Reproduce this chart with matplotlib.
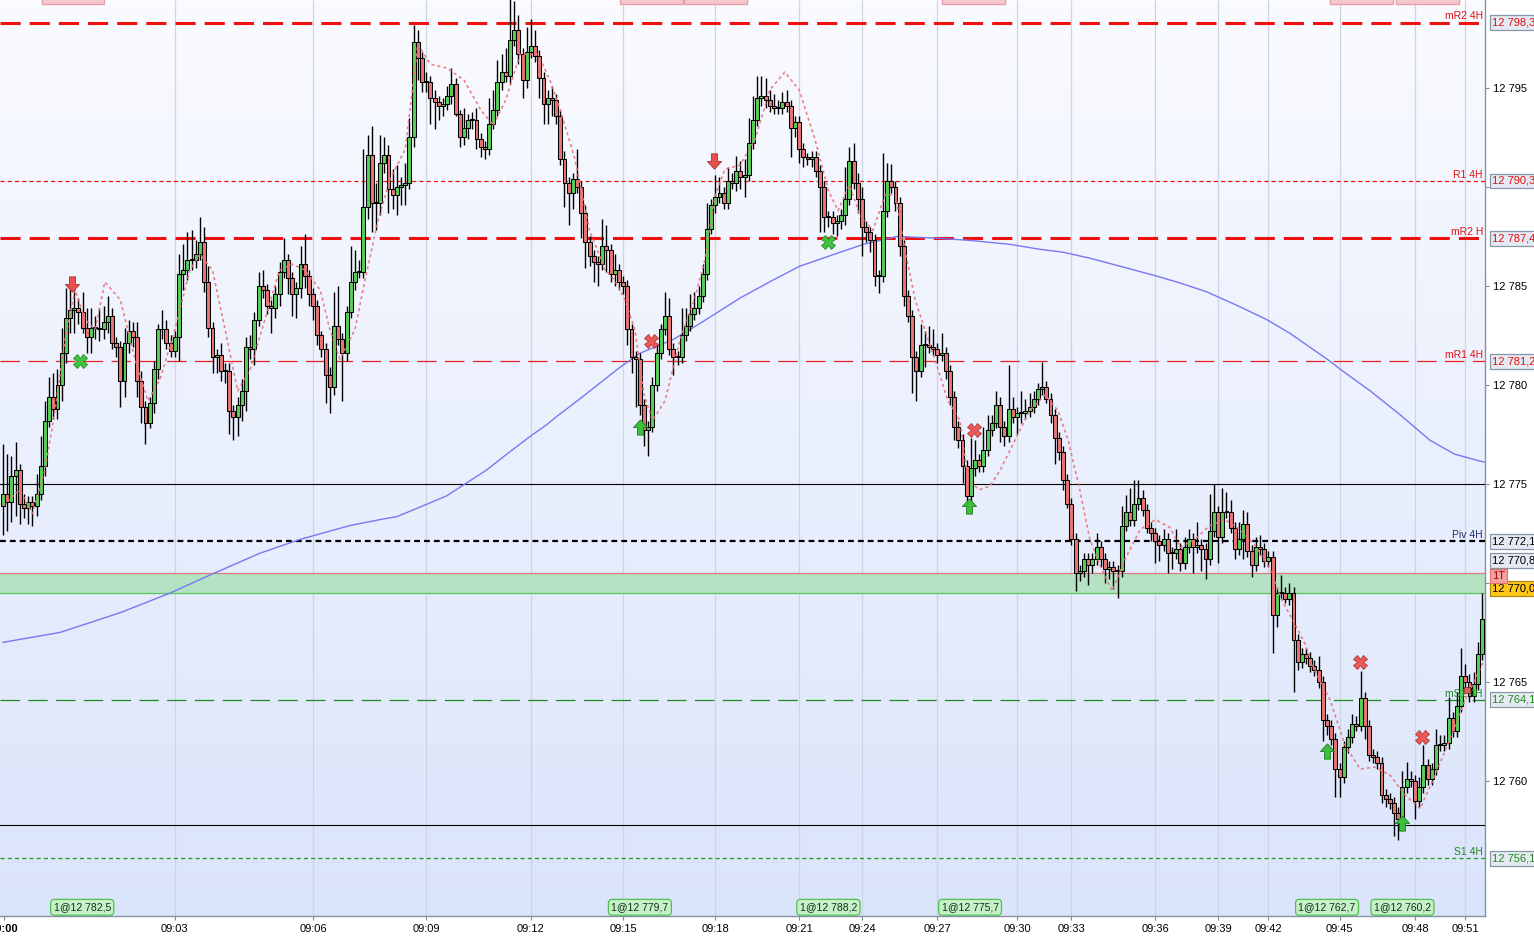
import numpy as np
import matplotlib
matplotlib.use('Agg')
import matplotlib.pyplot as plt
from matplotlib.path import Path
from matplotlib.patches import Rectangle
from matplotlib.colors import LinearSegmentedColormap
from matplotlib.transforms import blended_transform_factory

plt.rcParams['font.family'] = ['Liberation Sans', 'DejaVu Sans']
plt.rcParams['lines.scale_dashes'] = False

# ---------------- data ----------------
first_open = 12773.9
closes = [
    12774.5, 12774.1, 12775.4, 12775.7, 12774.0, 12773.8, 12774.1, 12773.9, 12774.5, 12775.9,
    12778.2, 12779.4, 12778.8, 12780.0, 12781.6, 12783.4, 12783.8, 12783.9, 12783.7, 12782.9,
    12782.4, 12782.9, 12782.9, 12782.8, 12783.2, 12783.5, 12782.1, 12781.9, 12780.2, 12782.1,
    12782.7, 12782.4, 12780.2, 12778.9, 12778.1, 12779.1, 12780.8, 12782.8, 12782.8, 12782.1,
    12781.7, 12782.4, 12785.6, 12785.8, 12786.3, 12786.3, 12786.6, 12787.2, 12785.2, 12782.9,
    12781.4, 12781.5, 12780.7, 12780.7, 12778.7, 12778.4, 12779.0, 12779.7,
    12781.9, 12781.8, 12783.3, 12785.0, 12784.8, 12784.0, 12783.9, 12784.6, 12785.7, 12786.3,
    12785.4, 12784.6, 12784.9, 12786.1, 12785.5, 12784.6, 12784.0, 12782.5, 12781.8, 12780.5,
    12779.9, 12783.0, 12782.3, 12781.6, 12783.7, 12785.2, 12785.7, 12785.7, 12789.0, 12791.6,
    12789.2, 12789.2, 12791.2, 12791.6, 12789.9, 12789.6, 12790.0, 12790.1, 12790.2, 12792.5,
    12797.3, 12796.5, 12795.3, 12795.3, 12794.5, 12794.3, 12794.1, 12794.2, 12794.6, 12795.2,
    12793.7, 12792.5, 12793.0, 12793.4, 12793.4, 12792.4, 12792.0, 12791.9, 12793.2, 12793.9,
    12795.3, 12795.8, 12795.6, 12797.4, 12797.9, 12796.7, 12795.4, 12796.8, 12797.1, 12796.6,
    12795.5, 12794.2, 12794.5,
    12794.4, 12793.6, 12791.4, 12790.2, 12789.7, 12790.4, 12790.0, 12788.7, 12787.2, 12786.5,
    12786.2, 12786.1, 12787.0, 12786.8, 12785.6, 12785.8, 12785.2, 12785.0, 12782.8, 12781.4,
    12781.3, 12779.0, 12777.7, 12777.9, 12780.0, 12781.6, 12782.8, 12783.5, 12781.8, 12781.4,
    12781.4, 12782.5, 12783.0, 12783.6, 12783.9, 12784.5, 12785.6, 12787.9, 12789.1, 12789.5,
    12789.7, 12789.2, 12790.3, 12790.2, 12790.8, 12790.5, 12790.6, 12792.2, 12793.4, 12794.5,
    12794.6, 12794.4, 12794.1, 12794.0, 12794.0, 12794.3, 12794.1, 12793.0, 12793.3, 12791.9,
    12791.5, 12791.4, 12791.5, 12790.8, 12790.0, 12788.5, 12788.5, 12788.2, 12788.3, 12788.6,
    12789.4, 12791.3, 12790.2, 12789.4, 12788.0, 12787.7, 12787.3, 12785.5, 12785.5, 12788.8,
    12790.3, 12790.0, 12789.2, 12787.0, 12784.5, 12783.5, 12781.4, 12780.7, 12782.0, 12782.0,
    12781.9, 12781.8, 12781.5, 12781.6, 12780.7, 12779.4, 12777.9, 12777.2, 12775.9, 12774.4,
    12775.8, 12776.2, 12775.9, 12776.7, 12777.7, 12778.1, 12779.0, 12777.9, 12777.4, 12778.8,
    12778.4, 12778.6, 12778.6, 12778.7, 12778.9, 12779.3, 12779.8, 12779.9, 12779.3, 12778.5,
    12777.3, 12776.6, 12775.2, 12774.0, 12772.2, 12770.5, 12770.6, 12771.2, 12770.9, 12771.2,
    12771.8, 12771.2, 12770.7, 12770.8, 12770.6, 12770.6, 12772.9, 12773.6, 12773.2,
    12774.0, 12774.3, 12773.7, 12772.8, 12772.5, 12772.1, 12771.9, 12772.2, 12771.5, 12771.5,
    12771.7, 12771.0, 12771.8, 12772.2, 12771.8, 12771.9, 12771.7, 12771.2, 12772.6, 12773.6,
    12772.3, 12773.6, 12773.6, 12772.8, 12771.7, 12772.2, 12773.0, 12771.6, 12770.9, 12771.8,
    12771.7, 12771.1, 12771.3, 12768.4, 12769.5, 12769.5, 12769.2, 12769.5, 12767.1, 12766.0,
    12766.4, 12766.2, 12765.8, 12765.6, 12765.0, 12763.1, 12762.8, 12762.1, 12760.6, 12760.2,
    12761.7, 12762.2, 12762.9, 12762.8, 12764.2, 12762.8, 12761.3, 12761.2, 12760.9, 12759.3,
    12759.1, 12758.9, 12758.4, 12758.1, 12759.7, 12760.1, 12760.0, 12759.0, 12759.7, 12760.8,
    12760.1, 12760.6, 12761.8, 12761.8, 12761.9, 12763.2, 12762.5, 12763.8, 12765.3, 12765.0,
    12764.3, 12764.9, 12766.4, 12768.2,
]
wick_up = [
    2.5, 2.0, 1.0, 1.4, 0.3, 0.5, 0.3, 0.3, 1.0, 1.5, 1.0, 1.0, 1.2, 0.8, 1.3, 1.5, 1.2, 1.3, 0.5, 1.0,
    1.0, 1.0, 0.6, 1.0, 0.8, 1.0, 0.4, 0.3, 0.3, 0.8, 0.6, 0.5, 0.8, 0.5, 0.3, 0.3, 0.4, 0.3, 1.0, 0.5,
    0.4, 0.3, 1.0, 1.3, 1.4, 1.5, 0.7, 1.3, 0.8, 0.8, 0.3, 0.3, 0.6, 0.4, 0.4, 0.3, 0.4, 0.6,
    0.5, 0.6, 0.4, 0.7, 0.8, 0.3, 0.3, 0.4, 0.5, 1.1, 0.3, 0.3, 0.3, 0.9, 1.5, 0.3, 0.3, 0.3, 0.2, 0.3,
    0.4, 1.7, 2.0, 0.3, 0.3, 1.8, 1.1, 0.6, 2.9, 1.0, 1.5, 1.0, 1.4, 0.9, 0.5, 1.0, 1.1, 0.4, 1.0, 1.0,
    0.9, 0.6, 0.3, 0.5, 0.3, 0.4, 0.3, 0.3, 0.5, 0.8, 0.3, 0.2, 1.0, 0.3, 0.4, 0.6, 0.3, 0.3, 1.3, 1.0,
    1.1, 0.9, 1.2, 2.2, 1.5, 0.8, 0.3, 1.3, 1.4, 0.8, 0.3, 0.3, 0.4,
    0.6, 0.3, 0.3, 0.4, 0.3, 0.3, 1.5, 0.3, 0.4, 0.3, 0.3, 0.3, 1.4, 1.1, 0.3, 0.8, 0.3, 0.3, 0.3, 0.3,
    0.3, 0.3, 0.3, 0.3, 0.4, 0.4, 0.3, 1.2, 0.9, 0.3, 0.3, 1.4, 0.9, 1.0, 0.8, 0.5, 0.5, 1.3, 0.3, 1.1,
    0.8, 0.3, 0.7, 0.4, 0.75, 0.5, 0.8, 1.3, 1.2, 1.1, 1.0, 0.9, 0.5, 0.6, 0.4, 0.5, 0.6, 0.3, 0.3, 0.3,
    0.3, 0.2, 0.3, 0.3, 0.3, 0.3, 0.3, 0.3, 0.3, 0.3,
    1.6, 0.7, 0.9, 0.5, 0.6, 0.3, 0.3, 0.3, 0.3, 2.9, 0.9, 0.85, 0.3, 0.3, 0.3, 0.3, 0.3, 0.3, 1.1, 0.7,
    1.0, 0.9, 0.3, 1.0, 0.3, 0.3, 0.3, 0.3, 0.3, 0.3, 1.5, 1.0, 0.3, 1.2, 0.8, 0.4, 0.7, 0.4, 0.3, 2.2,
    0.6, 0.3, 1.1, 0.6, 0.7, 0.4, 0.3, 1.25, 0.3, 0.3, 0.3, 0.3, 0.3, 0.3, 0.3, 0.3, 0.3, 0.3, 0.3, 0.3,
    0.7, 0.3, 0.3, 0.3, 0.3, 0.3, 1.0, 0.85, 1.2,
    1.2, 0.9, 0.4, 0.3, 0.3, 0.3, 0.3, 0.5, 0.3, 0.3, 1.0, 0.3, 0.5, 0.5, 0.3, 1.2, 0.3, 0.3, 1.9, 1.4,
    0.3, 1.2, 1.0, 0.6, 0.3, 0.9, 0.7, 0.6, 0.3, 0.5, 0.6, 0.3, 0.3, 0.3, 0.3, 0.9, 0.3, 0.5, 0.3, 0.3,
    0.3, 0.3, 0.3, 0.3, 0.7, 0.3, 0.3, 0.3, 0.3, 0.3, 0.3, 0.4, 0.5, 0.4, 1.35, 0.3, 0.3, 0.3, 0.3, 0.3,
    0.3, 0.3, 0.3, 0.3, 0.8, 0.85, 0.4, 0.3, 0.5, 1.0, 0.3, 0.3, 0.8, 0.5, 0.4, 1.05, 0.3, 0.7, 1.4, 0.6,
    0.4, 0.6, 0.6, 1.3,
]
wick_dn = [
    1.5, 1.5, 1.0, 2.0, 1.0, 0.5, 0.8, 1.0, 0.5, 0.3, 0.5, 0.3, 0.5, 0.5, 0.8, 0.5, 0.8, 1.2, 0.6, 0.3,
    0.8, 0.8, 0.6, 0.6, 0.5, 0.6, 0.3, 0.5, 1.3, 0.8, 0.5, 0.5, 0.8, 0.8, 1.1, 0.3, 0.5, 0.5, 0.5, 0.3,
    0.3, 0.3, 1.2, 0.8, 0.5, 0.5, 0.4, 0.3, 0.5, 0.5, 0.8, 0.8, 0.5, 0.6, 1.2, 1.2, 1.0, 0.8,
    1.0, 0.5, 0.8, 0.3, 0.4, 0.4, 1.3, 0.5, 0.6, 0.3, 0.8, 1.1, 1.2, 0.5, 0.6, 0.6, 0.7, 0.5, 0.4, 1.4,
    1.3, 0.4, 0.3, 2.4, 0.4, 0.3, 0.4, 0.3, 0.3, 0.6, 1.5, 1.4, 0.6, 0.5, 1.2, 0.7, 1.0, 0.9, 1.0, 0.3,
    0.5, 1.1, 0.5, 0.5, 1.3, 1.35, 0.7, 0.5, 0.3, 0.4, 0.1, 0.5, 0.4, 0.6, 0.5, 0.5, 0.5, 0.5, 0.3, 0.3,
    0.3, 0.4, 0.3, 0.4, 0.3, 0.5, 0.9, 0.4, 0.3, 0.3, 1.0, 1.0, 1.0,
    0.8, 0.4, 0.3, 1.2, 1.6, 0.8, 0.3, 1.3, 1.3, 0.5, 1.0, 1.1, 0.3, 1.1, 0.4, 0.6, 0.4, 0.4, 0.8, 0.8,
    2.4, 0.5, 0.8, 1.3, 0.3, 0.3, 0.3, 0.3, 0.3, 0.9, 0.4, 0.3, 0.3, 0.3, 0.3, 0.3, 0.3, 0.3, 0.3, 0.4,
    0.3, 0.3, 0.3, 0.3, 0.4, 0.6, 1.0, 0.3, 0.3, 0.3, 0.4, 0.4, 0.3, 0.3, 0.3, 0.3, 0.3, 1.5, 0.5, 0.7,
    0.5, 0.3, 0.4, 0.3, 2.3, 0.8, 0.5, 0.6, 0.7, 0.4,
    0.5, 0.3, 0.3, 0.7, 1.5, 0.5, 0.6, 0.5, 0.85, 0.3, 0.3, 0.3, 0.4, 0.5, 0.5, 0.3, 1.8, 1.5, 0.3, 1.1,
    0.3, 0.3, 0.4, 0.3, 0.4, 0.4, 0.7, 0.4, 0.85, 0.85, 0.3, 0.4, 0.3, 0.3, 0.3, 0.3, 0.3, 0.8, 0.5, 0.3,
    0.3, 0.9, 0.5, 0.3, 0.3, 0.3, 0.3, 0.3, 0.2, 0.4, 1.3, 0.4, 0.5, 0.2, 0.3, 0.9, 0.4, 0.3, 1.0, 0.4,
    0.3, 0.4, 0.7, 0.5, 0.9, 1.35, 0.3, 0.3, 0.3,
    0.3, 0.3, 0.3, 0.3, 0.4, 1.1, 0.8, 0.3, 1.0, 0.8, 0.3, 0.4, 0.3, 0.3, 1.3, 0.3, 1.1, 1.0, 0.3, 0.3,
    1.3, 0.3, 0.3, 0.3, 0.5, 0.3, 1.0, 0.3, 0.6, 0.3, 0.3, 0.3, 0.3, 1.95, 0.6, 0.3, 0.2, 0.3, 2.6, 0.4,
    0.3, 0.3, 0.3, 0.3, 0.3, 1.1, 0.5, 0.3, 1.4, 1.0, 0.3, 0.3, 0.3, 0.3, 0.3, 0.7, 0.3, 0.3, 0.3, 0.4,
    0.4, 0.3, 1.2, 1.1, 0.3, 0.3, 0.3, 0.9, 0.3, 0.3, 0.3, 0.3, 0.3, 0.3, 0.3, 0.3, 0.3, 0.3, 0.3, 0.3,
    0.3, 0.3, 0.3, 0.3,
]

# smoothed signal (red dotted) and slow average (blue)
sig_bar = [0, 4, 7, 10, 12.4, 14.8, 17.2, 19.6, 22, 24.3,
           28, 31.5, 34.6, 37.5, 41, 44.6, 47, 50, 53, 56,
           59, 62.5, 66, 69, 72, 75.7, 78, 80.4, 84, 86.4,
           89.5, 92.4, 96, 99, 102, 106, 110, 114, 117, 120,
           123.4, 127.7, 130.5, 133, 136.5, 140, 143.7, 146, 148.4, 150.8,
           153, 155, 158, 161.6, 165, 167.5, 170, 172.3, 175.9, 179.5,
           183, 186.6, 190, 193.8, 197, 199.3, 202, 204.5, 207.6, 210.5,
           213, 215.3, 217.7, 220, 222.4, 225.5, 228.4, 230.3, 233, 235.6,
           238, 241.5, 245, 248.7, 251.8, 254.2, 257, 259.4, 261.8, 264.7,
           267.8, 271.4, 275, 278.5, 281, 284.5, 288, 291.6, 295.2, 298.8,
           302.4, 305.3, 308.4, 310.8, 313, 316.7, 320.3, 323.9, 327.4, 331,
           334.6, 338.2, 341.8, 345.3, 349, 353.5]
sig_price = [12773.9, 12774.7, 12773.5, 12775.7, 12778.7, 12782.3, 12784.8, 12783.3, 12782.8, 12785.2,
             12784.3, 12781.3, 12779.2, 12780.3, 12782.8, 12785.8, 12786.6, 12785.8, 12782.8, 12779.7,
             12780.8, 12783.3, 12785.8, 12786.1, 12785.8, 12784.8, 12782.8, 12781.3, 12782.8, 12785.3,
             12788.3, 12790.4, 12791.9, 12797.2, 12796.2, 12796.0, 12795.4, 12793.9, 12793.1, 12794.4,
             12796.7, 12796.7, 12795.4, 12793.9, 12791.4, 12787.8, 12785.8, 12785.3, 12784.3, 12782.8,
             12779.5, 12778.2, 12779.2, 12782.3, 12784.3, 12786.3, 12789.6, 12790.9, 12791.1, 12792.4,
             12794.9, 12795.8, 12794.9, 12792.4, 12789.8, 12788.8, 12790.1, 12788.6, 12787.8, 12789.6,
             12789.6, 12786.8, 12784.3, 12782.8, 12781.3, 12779.2, 12778.2, 12775.2, 12774.7, 12774.9,
             12775.7, 12777.2, 12778.7, 12779.5, 12778.7, 12777.2, 12774.7, 12772.2, 12770.9, 12769.6,
             12771.2, 12772.7, 12773.2, 12772.8, 12771.8, 12772.2, 12772.9, 12773.2, 12772.7, 12771.9,
             12770.7, 12769.1, 12767.9, 12766.9, 12765.6, 12764.1, 12761.8, 12760.6, 12760.7, 12760.3,
             12759.3, 12758.6, 12760.3, 12762.1, 12764.1, 12766.1]
ma_bar = [0, 13.6, 28, 40, 49.4, 61.3, 70.9, 82.8, 90, 94,
          100.3, 105.9, 109.9, 115.4, 120.2, 125.8, 129.8, 132.1, 137.7, 142.5,
          147.3, 152, 160, 166.3, 176, 183.8, 190.2, 199.8, 205.3, 213.4,
          223.6, 230.8, 240.3, 247.5, 253.1, 259.4, 267.4, 275.3, 280.9, 287.3,
          295.2, 301.6, 307.2, 316.7, 319.1, 326.3, 333.4, 340.6, 346.5, 353.5]
ma_price = [12767.0, 12767.5, 12768.5, 12769.5, 12770.4, 12771.5, 12772.2, 12772.9, 12773.2, 12773.35,
            12773.9, 12774.4, 12774.95, 12775.7, 12776.5, 12777.4, 12778.0, 12778.4, 12779.3, 12780.1,
            12780.9, 12781.6, 12782.3, 12783.1, 12784.4, 12785.3, 12786.0, 12786.7, 12787.1, 12787.5,
            12787.4, 12787.3, 12787.1, 12786.85, 12786.7, 12786.4, 12785.95, 12785.5, 12785.15, 12784.7,
            12783.95, 12783.3, 12782.6, 12781.2, 12780.8, 12779.7, 12778.5, 12777.2, 12776.5, 12776.1]

# time axis
tick_bars = [41, 74, 101, 126, 148, 170, 190, 205, 223, 242, 255, 275, 290, 302, 319, 337, 349]
tick_labels = ['09:03', '09:06', '09:09', '09:12', '09:15', '09:18', '09:21', '09:24', '09:27',
               '09:30', '09:33', '09:36', '09:39', '09:42', '09:45', '09:48', '09:51']

# pivot levels
level_price = [12798.3, 12790.3, 12787.4, 12781.2, 12772.1, 12764.1, 12756.1]
level_name = ['mR2 4H', 'R1 4H', 'mR2 H', 'mR1 4H', 'Piv 4H', 'mS1 4H', 'S1 4H']
level_tag = ['12 798,3', '12 790,3', '12 787,4', '12 781,2', '12 772,1', '12 764,1', '12 756,1']
extremes = [12775.0, 12757.8]
zone = (12769.5, 12770.5)

# signals
sell_arrow_bar, sell_arrow_px = [16.5, 169.7], [12785.1, 12791.3]
buy_arrow_bar, buy_arrow_px = [152, 230.5, 316, 334], [12777.9, 12773.9, 12761.5, 12757.9]
exit_buy_bar, exit_buy_px = [18.4, 197], [12781.2, 12787.2]
exit_sell_bar, exit_sell_px = [154.6, 231.7, 323.9, 338.7], [12782.2, 12777.7, 12766.0, 12762.2]
fill_bar = [18.9, 152, 197, 230.8, 316, 334]
fill_text = ['1@12 782,5', '1@12 779,7', '1@12 788,2', '1@12 775,7', '1@12 762,7', '1@12 760,2']
sell_fill_bar = [16.7, 154.7, 170, 231.7, 324.3, 340]

# ---------------- figure ----------------
GREEN, RED = '#55cf55', '#e87474'
fig = plt.figure(figsize=(15.34, 9.36), dpi=100)
ax = fig.add_axes([0, 20 / 936, 1485 / 1534, 916 / 936])

grad = np.linspace(0, 1, 256).reshape(-1, 1)
bg = LinearSegmentedColormap.from_list('bg', ['#fafbff', '#dae4fb'])
ax.imshow(grad, extent=[0, 1, 0, 1], transform=ax.transAxes, aspect='auto', cmap=bg, zorder=0)

ax.vlines(tick_bars, 0, 1, transform=blended_transform_factory(ax.transData, ax.transAxes),
          color='#cdd4e4', lw=0.9, zorder=1)

# zone
ax.axhspan(zone[0], zone[1], fc='#b4e3c3', ec='none', zorder=2)
ax.axhline(zone[1], color='#e07a7a', lw=0.9, zorder=2)
ax.axhline(zone[0], color='#5cc45c', lw=0.9, zorder=2)

# levels
styles = [
    dict(color='#f01010', lw=2.2, dashes=(14.5, 6.5)),
    dict(color='#f01010', lw=0.9, dashes=(3, 2.2)),
    dict(color='#f01010', lw=2.2, dashes=(14.5, 6.5)),
    dict(color='#e82020', lw=0.9, dashes=(14, 6)),
    dict(color='#000000', lw=1.6, dashes=(4.2, 2.9)),
    dict(color='#1f8a1f', lw=0.9, dashes=(14, 6)),
    dict(color='#1f9a1f', lw=0.9, dashes=(3, 2.2)),
]
label_col = ['#e01010', '#e01010', '#e01010', '#e01010', '#1f2f70', '#1f8a1f', '#1f8a1f']
tag_col = ['#e01010', '#e01010', '#e01010', '#e01010', '#000000', '#1f8a1f', '#1f8a1f']
for p, st in zip(level_price, styles):
    ax.axhline(p, zorder=3, **st)
for p in extremes:
    ax.axhline(p, color='black', lw=0.8, zorder=3)

ax.plot(ma_bar, ma_price, color='#7878f2', lw=1.0, zorder=3.5)

# candles
c = np.array(closes)
o = np.r_[first_open, c[:-1]]
up, dn = np.array(wick_up), np.array(wick_dn)
top, bot = np.maximum(o, c), np.minimum(o, c)
x = np.arange(len(c))
ax.vlines(x, bot - dn, top + up, color='black', lw=1.0, zorder=4)
cols = np.where(c >= o, GREEN, RED)
ax.bar(x, np.maximum(top - bot, 0.05), bottom=bot, width=0.94, color=cols,
       edgecolor='black', linewidth=0.75, zorder=5)

ax.plot(sig_bar, sig_price, color='#e8747c', lw=1.2, dashes=(2.2, 2.2), alpha=0.9, zorder=6)

# markers
up_verts = [(-0.28, -0.7), (0.28, -0.7), (0.28, 0), (0.65, 0), (0, 0.7), (-0.65, 0), (-0.28, 0), (-0.28, -0.7)]
up_arrow = Path(up_verts, closed=True)
down_arrow = Path([(vx, -vy) for vx, vy in up_verts], closed=True)
ax.plot(sell_arrow_bar, sell_arrow_px, ls='none', marker=down_arrow, ms=11,
        mfc='#e85050', mec='#b02a2a', mew=0.6, zorder=7)
ax.plot(buy_arrow_bar, buy_arrow_px, ls='none', marker=up_arrow, ms=11,
        mfc='#3cbf3c', mec='#1b7d1b', mew=0.6, zorder=7)
ax.plot(exit_buy_bar, exit_buy_px, ls='none', marker='X', ms=10,
        mfc='#40c440', mec='#239023', mew=0.6, zorder=7)
ax.plot(exit_sell_bar, exit_sell_px, ls='none', marker='X', ms=10,
        mfc='#ea5a5a', mec='#b83434', mew=0.6, zorder=7)
ax.plot([349.5], [12764.6], ls='none', marker='s', ms=4, mfc='#e06060', mec='#802020', mew=0.5, zorder=7)

tx = blended_transform_factory(ax.transData, ax.transAxes)
for b, t in zip(fill_bar, fill_text):
    ax.text(b, 0.0095, t, transform=tx, ha='center', va='center', fontsize=7.5, color='#10301a',
            zorder=8, bbox=dict(boxstyle='round,pad=0.28,rounding_size=0.35', fc='#c6f0c6', ec='#52c052', lw=0.9))
for b in sell_fill_bar:
    ax.add_patch(Rectangle((b - 7.5, 0.9955), 15, 0.03, transform=tx, fc='#f5c8ce', ec='#e7a0aa',
                           lw=1.0, zorder=8, clip_on=True))

# level names inside the plot
ty = blended_transform_factory(ax.transAxes, ax.transData)
for p, name, col in zip(level_price, level_name, label_col):
    ax.annotate(name, xy=(1, p), xycoords=ty, xytext=(-1.5, 0.8), textcoords='offset points',
                ha='right', va='bottom', fontsize=7.5, color=col, zorder=9)

# price tags on the scale
def tag(p, text, col, fc='#e5e9f1', ec='#8797a8', dy=0.0):
    ax.annotate(text, xy=(1, p), xycoords=ty, xytext=(5, dy), textcoords='offset points',
                ha='left', va='center', fontsize=8, color=col, annotation_clip=False, zorder=10,
                bbox=dict(boxstyle='square,pad=0.22', fc=fc, ec=ec, lw=0.9))

for p, t, col in zip(level_price, level_tag, tag_col):
    tag(p, t, col)
tag(12770.8, '12 770,8', 'black', dy=5.0)
tag(12770.0, '12 770,0', 'black', fc='#ffc61c', ec='#b08a10', dy=-4.3)
ax.annotate('1T', xy=(1, 12770.35), xycoords=ty, xytext=(5, 0), textcoords='offset points',
            ha='left', va='center', fontsize=8, color='#a00000', annotation_clip=False, zorder=11,
            bbox=dict(boxstyle='square,pad=0.15', fc='#f3a2a2', ec='#e07070', lw=0.8))

# axes
ax.set_xlim(-0.72, 353.7)
ax.set_ylim(12753.18, 12799.44)
ax.yaxis.tick_right()
yt = [12760, 12765, 12770, 12775, 12780, 12785, 12790, 12795]
ax.set_yticks(yt)
# the 12 770 and 12 790 labels sit under the price tags
ax.set_yticklabels(['' if v in (12770, 12790) else f'{v:,.0f}'.replace(',', ' ') for v in yt])
ax.set_xticks([0.3] + tick_bars)
ax.set_xticklabels(['09:00'] + tick_labels)
ax.get_xticklabels()[0].set_fontweight('bold')
ax.tick_params(axis='both', labelsize=8, length=3, color='#7d8a98', pad=2.5)
for s in ['top', 'left']:
    ax.spines[s].set_visible(False)
for s in ['right', 'bottom']:
    ax.spines[s].set_color('#8493a2')
    ax.spines[s].set_linewidth(1.0)

fig.savefig('out.png', dpi=100)
